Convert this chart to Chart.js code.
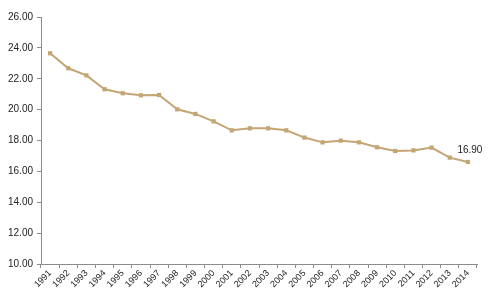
<!DOCTYPE html>
<html>
<head>
<meta charset="utf-8">
<script src="https://cdn.jsdelivr.net/npm/chart.js@4"></script>
<style>
  html, body { margin: 0; padding: 0; background: #fff; }
  #chart-trend { display: block; }
</style>
</head>
<body>
<canvas id="chart-trend" width="494" height="303"></canvas>
<script>
const years = ['1991','1992','1993','1994','1995','1996','1997','1998','1999','2000','2001','2002',
  '2003','2004','2005','2006','2007','2008','2009','2010','2011','2012','2013','2014'];
const values = [23.65, 22.68, 22.22, 21.32, 21.06, 20.93, 20.95, 20.02, 19.72, 19.24, 18.66, 18.79,
  18.79, 18.66, 18.19, 17.88, 17.99, 17.88, 17.56, 17.32, 17.36, 17.54, 16.89, 16.61];
const pointLabels = { 23: '16.90' };
const yTicks = [10, 12, 14, 16, 18, 20, 22, 24, 26];

const lineColor = '#c4a574';
const axisColor = '#8c8c8c';

// draws the single value label next to the last point
const lastLabel = {
  id: 'lastLabel',
  afterDatasetsDraw(chart) {
    const meta = chart.getDatasetMeta(0);
    const ctx = chart.ctx;
    ctx.save();
    ctx.font = '10px "Liberation Sans", Arial, sans-serif';
    ctx.fillStyle = '#222';
    ctx.textAlign = 'center';
    ctx.textBaseline = 'bottom';
    Object.keys(pointLabels).forEach(i => {
      const pt = meta.data[i];
      ctx.fillText(pointLabels[i], pt.x + 2, pt.y - 7);
    });
    ctx.restore();
  }
};

const ctx_trend = document.getElementById('chart-trend');

new Chart(ctx_trend, {
  type: 'line',
  data: {
    labels: years,
    datasets: [{
      data: values,
      borderColor: lineColor,
      borderWidth: 2,
      pointStyle: 'rect',
      pointRadius: 3,
      pointBackgroundColor: lineColor,
      pointBorderColor: lineColor,
      pointBorderWidth: 0,
      tension: 0
    }]
  },
  options: {
    responsive: false,
    animation: false,
    devicePixelRatio: 1,
    layout: { padding: { top: 17, right: 17, left: 0, bottom: 0 } },
    plugins: { legend: { display: false }, tooltip: { enabled: false } },
    scales: {
      x: {
        offset: true,
        grid: { offset: true, drawOnChartArea: false, drawTicks: true, tickLength: 4, color: axisColor },
        border: { color: axisColor, width: 1 },
        ticks: {
          autoSkip: false, minRotation: 45, maxRotation: 45,
          color: '#222', padding: 0,
          font: { family: '"Liberation Sans", Arial, sans-serif', size: 9 }
        },
        afterFit(scale) { scale.height = 39; }
      },
      y: {
        min: 10, max: 26,
        afterBuildTicks(scale) { scale.ticks = yTicks.map(v => ({ value: v })); },
        grid: { drawOnChartArea: false, drawTicks: true, tickLength: 4, color: axisColor },
        border: { color: axisColor, width: 1 },
        ticks: {
          autoSkip: false,
          color: '#222', padding: 4,
          font: { family: '"Liberation Sans", Arial, sans-serif', size: 10 },
          callback: v => Number(v).toFixed(2)
        },
        afterFit(scale) { scale.width = 41; }
      }
    }
  },
  plugins: [lastLabel]
});
</script>
</body>
</html>
